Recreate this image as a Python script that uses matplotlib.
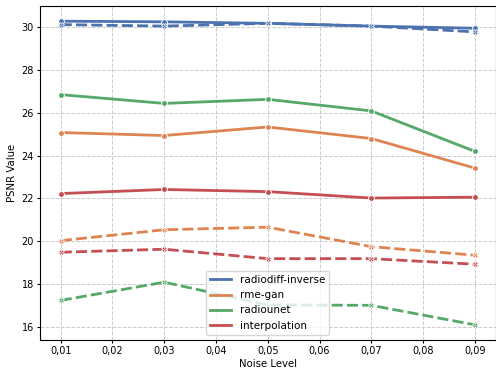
import numpy as np
import matplotlib
matplotlib.use("Agg")
from matplotlib import pyplot as plt
from matplotlib.lines import Line2D
from matplotlib.ticker import FuncFormatter

noise = [0.01, 0.03, 0.05, 0.07, 0.09]
methods = ["radiodiff-inverse", "rme-gan", "radiounet", "interpolation"]
colors = ["#4C72B0", "#DD8452", "#55A868", "#C44E52"]

# solid lines (o markers)
solid_diff = [30.28, 30.25, 30.18, 30.05, 29.95]
solid_gan = [25.08, 24.94, 25.34, 24.80, 23.42]
solid_unet = [26.85, 26.44, 26.63, 26.09, 24.20]
solid_interp = [22.23, 22.42, 22.32, 22.02, 22.06]

# dashed lines (x markers)
dash_diff = [30.12, 30.05, 30.18, 30.05, 29.78]
dash_gan = [20.03, 20.54, 20.66, 19.75, 19.35]
dash_unet = [17.24, 18.09, 17.03, 17.01, 16.10]
dash_interp = [19.49, 19.63, 19.19, 19.19, 18.93]

solid = [solid_diff, solid_gan, solid_unet, solid_interp]
dashed = [dash_diff, dash_gan, dash_unet, dash_interp]

fig, ax = plt.subplots(figsize=(4.96, 3.71), dpi=100)
fig.subplots_adjust(left=40 / 496, right=0.999, top=1 - 6 / 371, bottom=1 - 340 / 371)

for name, c, ys, yd in zip(methods, colors, solid, dashed):
    ax.plot(noise, ys, color=c, lw=2, marker='o', ms=4.2, mec='white', mew=0.7)
    ax.plot(noise, yd, color=c, lw=2, ls=(0, (4, 1.5)), marker='X', ms=4.2, mec='white', mew=0.5)

ax.set_xticks(np.arange(0.01, 0.0901, 0.01))
ax.xaxis.set_major_formatter(FuncFormatter(lambda v, p: f"{v:.2f}".replace('.', ',')))
ax.set_yticks([16, 18, 20, 22, 24, 26, 28, 30])
ax.tick_params(labelsize=7, length=2.5, pad=2)
ax.grid(True, linestyle='--', color='#cccccc', lw=0.7)
ax.set_xlabel('Noise Level', fontsize=7.3, labelpad=2)
ax.set_ylabel('PSNR Value', fontsize=7.3, labelpad=3)

handles = [Line2D([], [], color=c, lw=2) for c in colors]
ax.legend(handles, methods, loc='lower center', fontsize=7.5, framealpha=0.8)

fig.savefig("out.png", dpi=100)
